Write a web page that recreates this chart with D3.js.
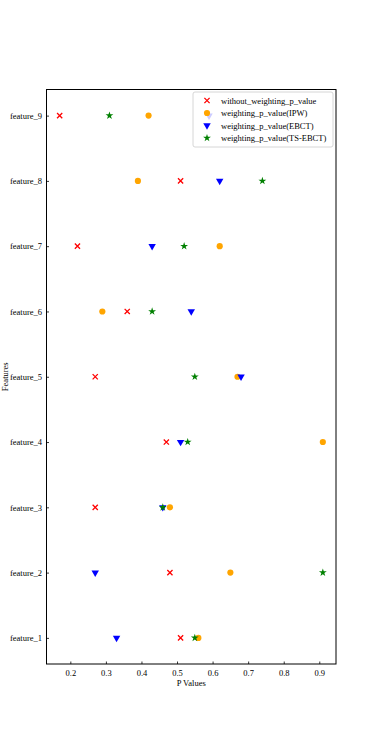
<!DOCTYPE html>
<html>
<head>
<meta charset="utf-8">
<script src="https://cdn.jsdelivr.net/npm/d3@7"></script>
<style>
  body { margin: 0; background: #fff; }
  svg { display: block; font-family: "Liberation Serif", "Times New Roman", serif; }
</style>
</head>
<body>
<div id="chart"></div>
<script>
// data
const features = ["feature_1", "feature_2", "feature_3", "feature_4", "feature_5",
                  "feature_6", "feature_7", "feature_8", "feature_9"];
const withoutWeighting = [0.51, 0.48, 0.27, 0.47, 0.27, 0.36, 0.22, 0.51, 0.17];
const ipw              = [0.56, 0.65, 0.48, 0.91, 0.67, 0.29, 0.62, 0.39, 0.42];
const ebct             = [0.33, 0.27, 0.46, 0.51, 0.68, 0.54, 0.43, 0.62, 0.59];
const tsEbct           = [0.55, 0.91, 0.46, 0.53, 0.55, 0.43, 0.52, 0.74, 0.31];
const xTicks = [0.2, 0.3, 0.4, 0.5, 0.6, 0.7, 0.8, 0.9];

const series = [
  { name: "without_weighting_p_value", values: withoutWeighting, color: "red", shape: "x" },
  { name: "weighting_p_value(IPW)", values: ipw, color: "orange", shape: "circle" },
  { name: "weighting_p_value(EBCT)", values: ebct, color: "blue", shape: "tri" },
  { name: "weighting_p_value(TS-EBCT)", values: tsEbct, color: "green", shape: "star" }
];

const W = 374, H = 747;
const margin = { top: 89.5, left: 46.5, right: 38, bottom: 83 };
const width = W - margin.left - margin.right,
      height = H - margin.top - margin.bottom;
const fontSize = 8.5;

const svg = d3.select("#chart").append("svg")
  .attr("width", W).attr("height", H);

const g = svg.append("g")
  .attr("transform", "translate(" + margin.left + "," + margin.top + ")");

// matplotlib-style 5% padding
const allVals = series.flatMap(s => s.values);
const lo = d3.min(allVals), hi = d3.max(allVals), pad = (hi - lo) * 0.05;
const xScale = d3.scaleLinear().domain([lo - pad, hi + pad]).range([0, width]);
const yScale = d3.scaleLinear().domain([-0.4, features.length - 1 + 0.4]).range([height, 0]);

// axes, ticks pointing inward
const xAxis = g.append("g")
  .attr("transform", "translate(0," + height + ")")
  .call(d3.axisBottom(xScale).tickValues(xTicks).tickFormat(d3.format(".1f"))
    .tickSizeInner(-2.5).tickSizeOuter(0).tickPadding(5.5));
const yAxis = g.append("g")
  .call(d3.axisLeft(yScale).tickValues(d3.range(features.length))
    .tickFormat(i => features[i]).tickSizeInner(-2.5).tickSizeOuter(0).tickPadding(4.5));

[xAxis, yAxis].forEach(a => {
  a.selectAll("text").attr("font-size", fontSize).attr("fill", "#000")
    .attr("font-family", "Liberation Serif, serif");
  a.selectAll("line").attr("stroke", "#000").attr("stroke-width", 0.8);
  a.select(".domain").remove();
});

g.append("rect")
  .attr("width", width).attr("height", height)
  .attr("fill", "none").attr("stroke", "#000").attr("stroke-width", 1);

// axis labels
g.append("text")
  .attr("x", width / 2).attr("y", height + 22)
  .attr("text-anchor", "middle").attr("font-size", fontSize)
  .text("P Values");
g.append("text")
  .attr("transform", "translate(" + (-38.5) + "," + (height / 2) + ") rotate(-90)")
  .attr("text-anchor", "middle").attr("font-size", fontSize)
  .text("Features");

const star = d3.symbol().type(d3.symbolStar).size(19);
const circle = d3.symbol().type(d3.symbolCircle).size(30);
const tri = d3.symbol().type(d3.symbolTriangle).size(24);

function drawMarker(sel, s) {
  if (s.shape === "x") {
    const r = 2.6;
    sel.append("path")
      .attr("d", "M" + (-r) + "," + (-r) + "L" + r + "," + r + "M" + (-r) + "," + r + "L" + r + "," + (-r))
      .attr("stroke", s.color).attr("stroke-width", 1.3).attr("fill", "none");
  } else if (s.shape === "circle") {
    sel.append("path").attr("d", circle).attr("fill", s.color);
  } else if (s.shape === "tri") {
    sel.append("path").attr("d", tri).attr("fill", s.color)
      .attr("transform", "rotate(180)");
  } else {
    sel.append("path").attr("d", star).attr("fill", s.color);
  }
}

series.forEach(s => {
  g.append("g").selectAll("g")
    .data(s.values)
    .enter().append("g")
    .attr("transform", (d, i) => "translate(" + xScale(d) + "," + yScale(i) + ")")
    .each(function () { drawMarker(d3.select(this), s); });
});

// legend, semi-transparent frame on top of data
const legend = g.append("g").attr("transform", "translate(" + (width - 143) + ",2.5)");
legend.append("rect")
  .attr("width", 140).attr("height", 55).attr("rx", 2)
  .attr("fill", "#fff").attr("fill-opacity", 0.8)
  .attr("stroke", "#ccc").attr("stroke-width", 0.8);
series.forEach((s, i) => {
  const row = legend.append("g").attr("transform", "translate(0," + (8.5 + i * 12.5) + ")");
  drawMarker(row.append("g").attr("transform", "translate(14,0)"), s);
  row.append("text").attr("x", 28).attr("y", 3)
    .attr("font-size", fontSize).text(s.name);
});
</script>
</body>
</html>
